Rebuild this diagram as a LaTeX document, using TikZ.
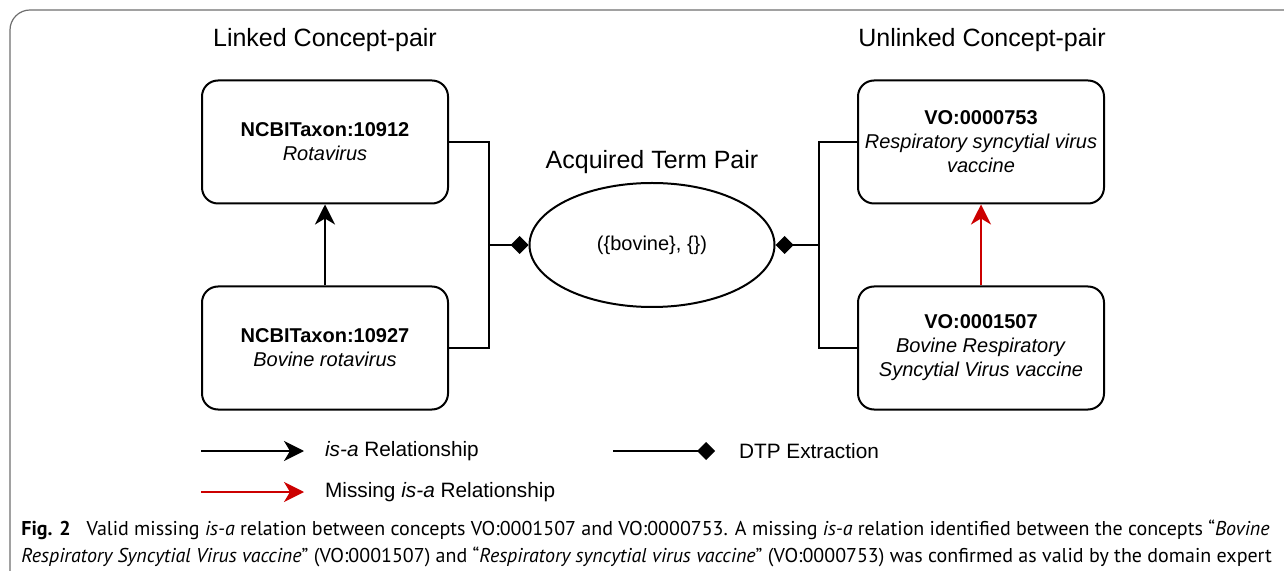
\documentclass[tikz,border=0pt]{standalone}
\usepackage{fontspec}
\setmainfont{Liberation Sans}
\newfontfamily\captionfont{PT Sans}
\usetikzlibrary{arrows.meta,shapes.geometric}
\definecolor{missingred}{RGB}{204,0,0}
\definecolor{framegray}{RGB}{110,110,110}

\begin{document}
\begin{tikzpicture}[x=0.5pt,y=-0.5pt,
    concept/.style={draw, line width=1pt, rounded corners=8pt, minimum width=123pt,
      minimum height=61.5pt, align=center, inner sep=2pt, font=\fontsize{10}{12}\selectfont},
    termpair/.style={draw, ellipse, line width=1pt, minimum width=122.5pt,
      minimum height=62pt, font=\fontsize{10}{12}\selectfont},
    heading/.style={font=\fontsize{12.5}{15}\selectfont},
    isa/.style={line width=1pt, -{Stealth[length=10pt,width=10pt,inset=3pt]}},
    dtp/.style={line width=1pt, -{Diamond[length=9pt,width=9pt]}},
    legend/.style={anchor=west, font=\fontsize{10.4}{12}\selectfont},
    captionline/.style={anchor=west, inner sep=0pt, font=\captionfont\fontsize{10}{12}\selectfont}]
    \useasboundingbox (0,0) rectangle (1284,571);
    % frame
    \draw [framegray, line width=0.6pt, rounded corners=10pt] (10,10) rectangle (1330,630);
    % headings
    \node [heading] (linkedhead) at (325,40) {Linked Concept-pair};
    \node [heading] (unlinkedhead) at (982,40) {Unlinked Concept-pair};
    \node [heading] (pairhead) at (652,162) {Acquired Term Pair};
    % linked concept-pair
    \node [concept] (rota) at (325,142) {\textbf{NCBITaxon:10912}\\\textit{Rotavirus}};
    \node [concept] (bovrota) at (325,348) {\textbf{NCBITaxon:10927}\\\textit{Bovine rotavirus}};
    \draw [isa] (bovrota) -- (rota);
    % unlinked concept-pair
    \node [concept] (rsv) at (981,142) {\textbf{VO:0000753}\\\textit{Respiratory syncytial virus}\\\textit{vaccine}};
    \node [concept] (brsv) at (981,348) {\textbf{VO:0001507}\\\textit{Bovine Respiratory}\\\textit{Syncytial Virus vaccine}};
    \draw [isa, missingred] (brsv) -- (rsv);
    % term pair
    \node [termpair] (pair) at (652,245) {(\{bovine\}, \{\})};
    \coordinate (leftjoin) at (489,245);
    \coordinate (rightjoin) at (819,245);
    \draw [line width=1pt] (rota.east) -| (leftjoin) |- (bovrota.east);
    \draw [line width=1pt] (rsv.west) -| (rightjoin) |- (brsv.west);
    \draw [dtp] (leftjoin) -- (pair.west);
    \draw [dtp] (rightjoin) -- (pair.east);
    % legend
    \coordinate (isastart) at (201,451);
    \coordinate (isaend) at (304,451);
    \coordinate (dtpstart) at (613,451);
    \coordinate (dtpend) at (715,451);
    \coordinate (missstart) at (201,492);
    \coordinate (missend) at (304,492);
    \draw [isa] (isastart) -- (isaend);
    \draw [dtp] (dtpstart) -- (dtpend);
    \draw [isa, missingred] (missstart) -- (missend);
    \node [legend] (isatext) at (318,451) {\textit{is-a} Relationship};
    \node [legend] (dtptext) at (732,451) {DTP Extraction};
    \node [legend] (misstext) at (318,492) {Missing \textit{is-a} Relationship};
    % caption
    \node [captionline] (capone) at (21,530) {\textbf{Fig. 2}\hspace{0.8em}Valid missing \textit{is-a} relation between concepts VO:0001507 and VO:0000753. A missing \textit{is-a} relation identified between the concepts “\textit{Bovine}};
    \node [captionline] (captwo) at (21,557) {\textit{Respiratory Syncytial Virus vaccine}” (VO:0001507) and “\textit{Respiratory syncytial virus vaccine}” (VO:0000753) was confirmed as valid by the domain expert};
\end{tikzpicture}
\end{document}
